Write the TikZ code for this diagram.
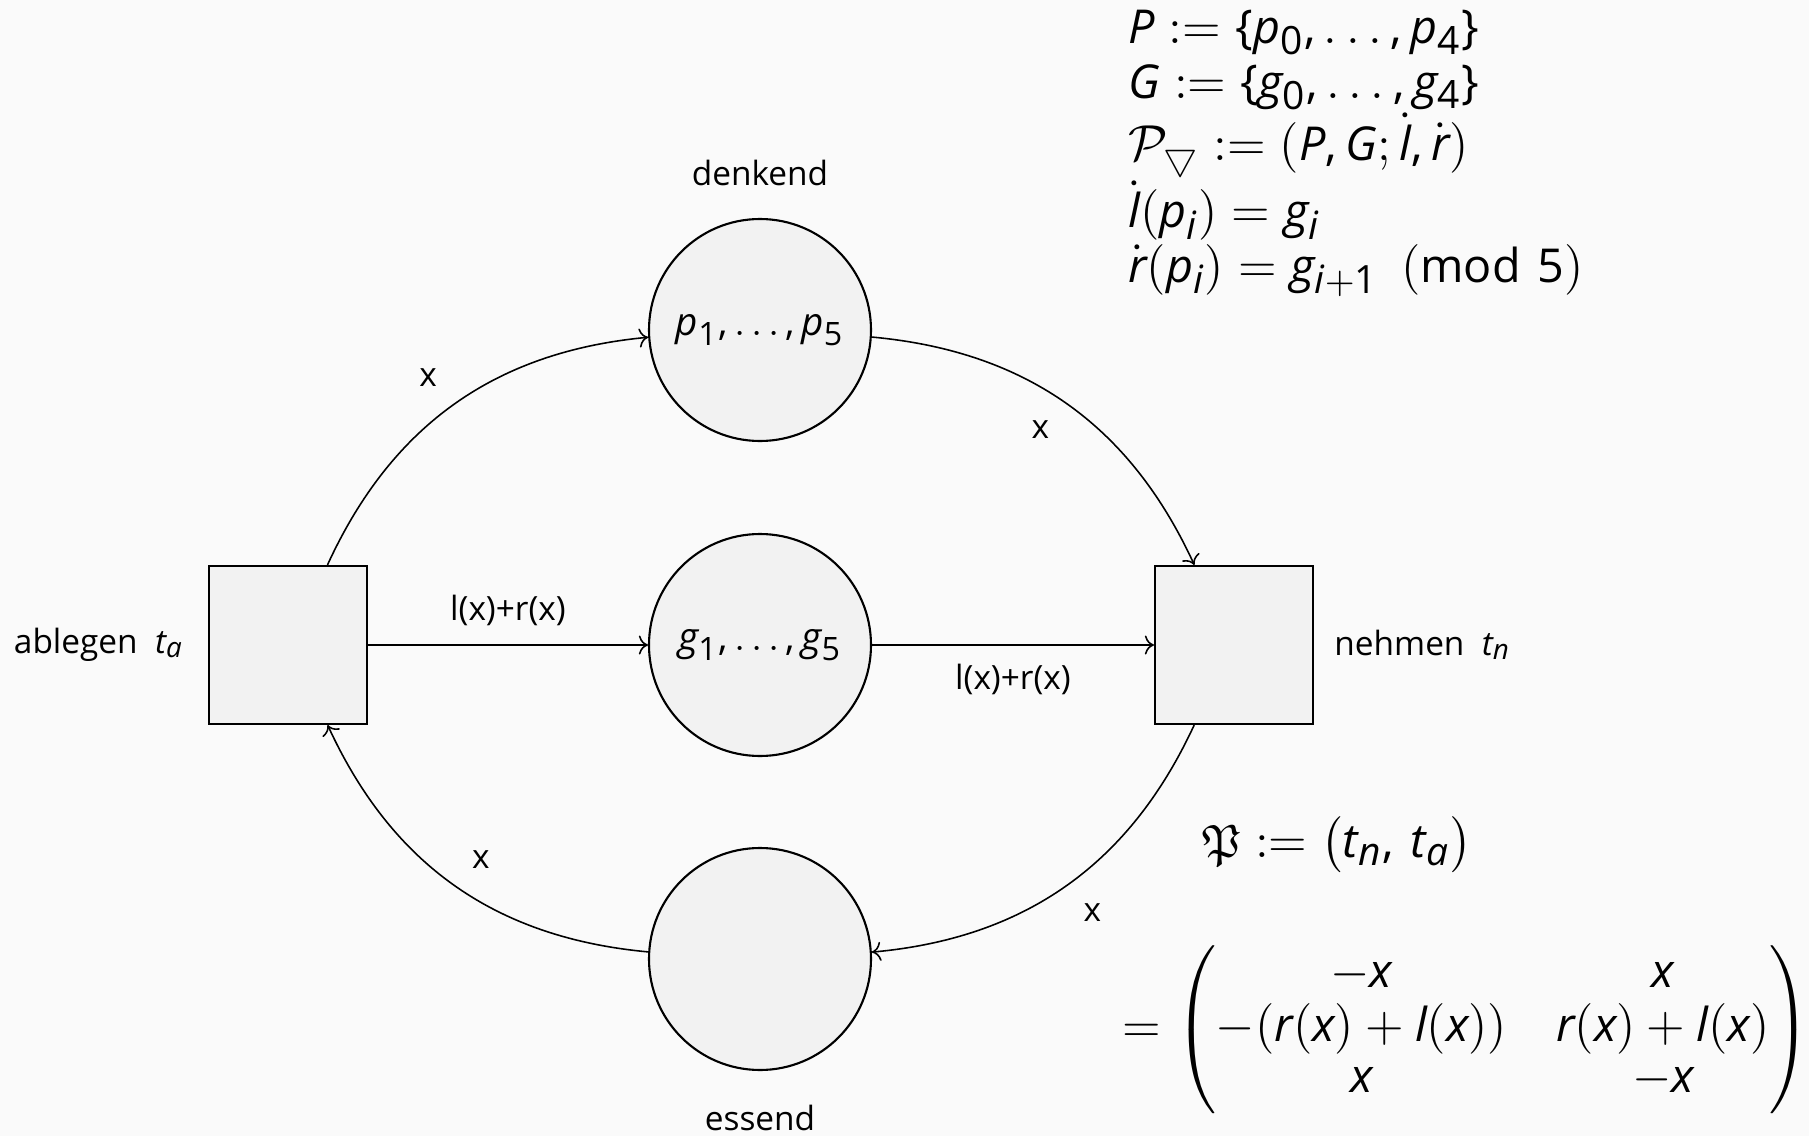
\documentclass[tikz,border=0pt]{standalone}
\usepackage{amsmath,amssymb}
\usepackage{fontspec}
\setmainfont{Open Sans}
\newfontfamily\zifferfont{Open Sans}[NFSSFamily=ossziffern]
\usepackage[italic,noequal,noplusnominus]{mathastext}
\usepackage{xcolor}
\usetikzlibrary{arrows.meta,positioning}

% sans digits in math
\DeclareSymbolFont{ziffern}{TU}{ossziffern}{m}{n}
\newcommand\sansziffern{%
  \Umathcode`0=0 \symziffern `0 \Umathcode`1=0 \symziffern `1
  \Umathcode`2=0 \symziffern `2 \Umathcode`3=0 \symziffern `3
  \Umathcode`4=0 \symziffern `4 \Umathcode`5=0 \symziffern `5
  \Umathcode`6=0 \symziffern `6 \Umathcode`7=0 \symziffern `7
  \Umathcode`8=0 \symziffern `8 \Umathcode`9=0 \symziffern `9 }
\AtBeginDocument{%
  \everymath\expandafter{\the\everymath\sansziffern}%
  \everydisplay\expandafter{\the\everydisplay\sansziffern}}

\definecolor{bggray}{RGB}{250,250,250}
\definecolor{nodegray}{RGB}{242,242,242}

\begin{document}
\begin{tikzpicture}[x=1cm,y=1cm,font=\fontsize{9.5}{11.5}\selectfont,
  trans/.style={draw,line width=0.6pt,fill=nodegray,minimum size=1.58cm,inner sep=0pt},
  place/.style={draw,line width=0.6pt,fill=nodegray,circle,minimum size=2.22cm,inner sep=0pt,font=\fontsize{11}{13}\selectfont},
  arc/.style={->,line width=0.45pt},
  formel/.style={font=\fontsize{13.3}{15.5}\selectfont}]
\useasboundingbox (0,0) rectangle (18.09,11.36);
\fill[bggray] (0,0) rectangle (18.09,11.36);
% transitions and places
\node[trans] (ta) at (2.88,4.91) {};
\node[trans] (tn) at (12.34,4.91) {};
\foreach \n/\y/\t in {denk/8.06/{$p_1,\ldots,p_5$},gabel/4.91/{$g_1,\ldots,g_5$},ess/1.77/{}}{
  \node[place] (\n) at (7.60,\y) {\t};
}
\node[above=0.2cm of denk] (denklab) {denkend};
\node[below=0.22cm of ess] (esslab) {essend};
\node[left=0.12cm of ta] (talab) {ablegen\ \ $t_a$};
\node[right=0.08cm of tn] (tnlab) {nehmen\ \ $t_n$};
% arcs
\draw[arc] (ta) to[bend left=30] node[above left=2pt] {x} (denk);
\draw[arc] (denk) to[bend left=30] node[below left=2pt] {x} (tn);
\draw[arc] (tn) to[bend left=30] node[below right=2pt] {x} (ess);
\draw[arc] (ess) to[bend left=30] node[above right=2pt] {x} (ta);
\draw[arc] (ta) -- node[above=2pt] {l(x)+r(x)} (gabel);
\draw[arc] (gabel) -- node[below=2pt] {l(x)+r(x)} (tn);
% definitions
\node[formel,anchor=north west,align=left] (defs) at (11.16,11.38) {%
  $P := \{p_0,\ldots,p_4\}$\\
  $G := \{g_0,\ldots,g_4\}$\\
  $\mathcal{P}_{\bigtriangledown} := (P,G;\dot{l},\dot{r})$\\
  $\dot{l}(p_i) = g_i$\\
  $\dot{r}(p_i) = g_{i+1} \pmod{5}$};
\node[formel,anchor=west] (pfrak) at (11.90,2.91) {$\mathfrak{P} := \bigl(t_n,\, t_a\bigr)$};
\node[formel,anchor=west,font=\fontsize{13.3}{14.7}\selectfont] (mat) at (11.10,1.06)
  {\setlength{\arraycolsep}{7pt}$= \begin{pmatrix} -x & x\\ -(r(x)+l(x)) & r(x)+l(x)\\ x & -x \end{pmatrix}$};
\end{tikzpicture}
\end{document}
